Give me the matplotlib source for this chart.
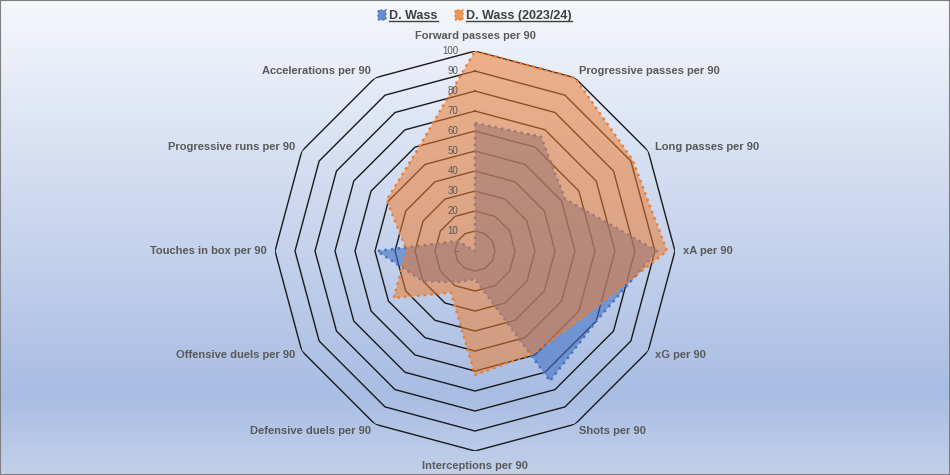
import numpy as np
import matplotlib
matplotlib.use("Agg")
import matplotlib.pyplot as plt
from matplotlib.patches import Patch, Rectangle
from matplotlib.lines import Line2D
from matplotlib.colors import LinearSegmentedColormap

# --- data ---
categories = [
    "Forward passes per 90", "Progressive passes per 90", "Long passes per 90",
    "xA per 90", "xG per 90", "Shots per 90", "Interceptions per 90",
    "Defensive duels per 90", "Offensive duels per 90", "Touches in box per 90",
    "Progressive runs per 90", "Accelerations per 90",
]
wass = [64, 66, 52, 91, 70, 75, 14, 18, 30, 49, 10, 0]
wass_2324 = [100, 100, 91, 96, 64, 59, 62, 24, 47, 34, 51, 58]
series_names = ["D. Wass", "D. Wass (2023/24)"]
ring_values = [0, 10, 20, 30, 40, 50, 60, 70, 80, 90, 100]
ring_labels = ["-", "10", "20", "30", "40", "50", "60", "70", "80", "90", "100"]

BLUE = "#4472C4"
ORANGE = "#ED7D31"
TXT = "#595959"
FONT = ["Liberation Sans", "DejaVu Sans"]

fig = plt.figure(figsize=(9.5, 4.75), dpi=100)

# background gradient
bg = fig.add_axes([0, 0, 1, 1], zorder=0)
cmap = LinearSegmentedColormap.from_list(
    "bg", [(0.0, "#F5F7FC"), (0.83, "#A9BDE3"), (1.0, "#C2D0EA")])
bg.imshow(np.linspace(0, 1, 256).reshape(-1, 1), aspect="auto", cmap=cmap,
          extent=[0, 1, 1, 0])
bg.set_xlim(0, 1)
bg.set_ylim(1, 0)
bg.axis("off")
fig.add_artist(Rectangle((0, 0), 1, 1, transform=fig.transFigure, fill=False,
                         edgecolor="#7F7F7F", lw=1.5))

# radar axes
ax = fig.add_axes([0.2895, 0.0505, 0.421, 0.842], projection="polar", zorder=1)
ax.set_theta_offset(np.pi / 2)
ax.set_theta_direction(-1)
ax.patch.set_alpha(0)
ax.spines["polar"].set_visible(False)
ax.grid(False)
ax.set_xticks([])
ax.set_yticks([])
ax.set_ylim(0, 100)

n = len(categories)
theta = np.linspace(0, 2 * np.pi, n, endpoint=False)
theta_c = np.append(theta, theta[0])

# polygon grid rings
for r in ring_values[1:]:
    ax.plot(theta_c, [r] * (n + 1), color="#1A1A1A", lw=1.0, zorder=1)

# series
for vals, col, a, z in [(wass, BLUE, 0.6, 3), (wass_2324, ORANGE, 0.55, 5)]:
    v = np.append(vals, vals[0])
    ax.fill(theta_c, v, color=col, alpha=a, lw=0, zorder=z)
    ax.plot(theta_c, v, color=col, lw=1.8, ls=":", zorder=z + 1)

# ring labels
for r, lbl in zip(ring_values, ring_labels):
    ax.annotate(lbl, xy=(0, r), xytext=(-12, 0), textcoords="offset points",
                ha="right", va="center", fontsize=7, color=TXT,
                family=FONT, zorder=10, annotation_clip=False)

# category labels
for t, lbl in zip(theta, categories):
    deg = np.degrees(t) % 360
    if np.isclose(deg, 0):
        ha, va, r = "center", "bottom", 105
    elif np.isclose(deg, 180):
        ha, va, r = "center", "top", 105
    elif deg < 180:
        ha, va, r = "left", "center", 104
    else:
        ha, va, r = "right", "center", 104
    ax.text(t, r, lbl, ha=ha, va=va, fontsize=8, fontweight="bold",
            color=TXT, family=FONT, zorder=10)

# legend
handles = [Patch(facecolor=c, edgecolor=c, alpha=0.8, ls=":", lw=1.2)
           for c in (BLUE, ORANGE)]
leg = fig.legend(handles, series_names, loc="center",
                 bbox_to_anchor=(0.5, 0.966), ncol=2, frameon=False,
                 handlelength=0.6, handleheight=0.8, handletextpad=0.3,
                 columnspacing=1.4, prop={"family": FONT, "weight": "bold",
                                          "size": 9})
for txt in leg.get_texts():
    txt.set_color("#404040")

fig.canvas.draw()
renderer = fig.canvas.get_renderer()
inv = fig.transFigure.inverted()
for txt in leg.get_texts():
    bb = txt.get_window_extent(renderer)
    (x0, y0), (x1, _) = inv.transform([(bb.x0, bb.y0), (bb.x1, bb.y1)])
    fig.add_artist(Line2D([x0, x1], [y0 + 0.003, y0 + 0.003],
                          transform=fig.transFigure, color="#404040", lw=1.0))

fig.savefig("out.png", dpi=100)
